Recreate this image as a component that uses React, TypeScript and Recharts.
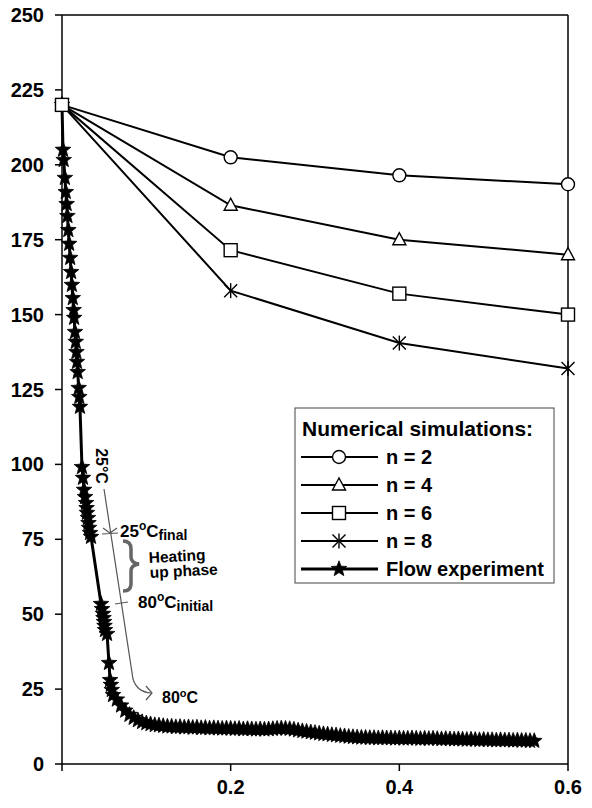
import { ScatterChart, Scatter, XAxis, YAxis, ReferenceLine } from "recharts";

const FONT = "'Liberation Sans', Arial, sans-serif";

// numerical simulations, sampled at the same x positions
const simX = [0, 0.2, 0.4, 0.6];
const simN2 = [220, 202.5, 196.5, 193.5];
const simN4 = [220, 186.5, 175, 170];
const simN6 = [220, 171.5, 157, 150];
const simN8 = [220, 158, 140.5, 132];

// flow experiment (dense logger readings)
const flowX = [
  0, 0.0012, 0.002, 0.0034, 0.0045, 0.0055, 0.0064, 0.0075, 0.0085, 0.0097,
  0.0108, 0.0117, 0.0128, 0.0138, 0.0144, 0.0154, 0.0163, 0.0171, 0.0178, 0.0186,
  0.0198, 0.0205, 0.0213, 0.0237, 0.0249, 0.0261, 0.0273, 0.0285, 0.0291, 0.0296,
  0.0308, 0.0314, 0.032, 0.0332, 0.0344, 0.0463, 0.0475, 0.0486, 0.0492, 0.0498,
  0.0504, 0.051, 0.0534, 0.0557, 0.057, 0.058, 0.059, 0.0605,
  0.065, 0.07, 0.075, 0.08, 0.085, 0.09, 0.095, 0.1, 0.105, 0.11,
  0.115, 0.12, 0.125, 0.13, 0.135, 0.14, 0.145, 0.15, 0.155, 0.16,
  0.165, 0.17, 0.175, 0.18, 0.185, 0.19, 0.195, 0.2, 0.205, 0.21,
  0.215, 0.22, 0.225, 0.23, 0.235, 0.24, 0.245, 0.25, 0.255, 0.26,
  0.265, 0.27, 0.275, 0.28, 0.285, 0.29, 0.295, 0.3, 0.305, 0.31,
  0.315, 0.32, 0.325, 0.33, 0.335, 0.34, 0.345, 0.35, 0.355, 0.36,
  0.365, 0.37, 0.375, 0.38, 0.385, 0.39, 0.395, 0.4, 0.405, 0.41,
  0.415, 0.42, 0.425, 0.43, 0.435, 0.44, 0.445, 0.45, 0.455, 0.46,
  0.465, 0.47, 0.475, 0.48, 0.485, 0.49, 0.495, 0.5, 0.505, 0.51,
  0.515, 0.52, 0.525, 0.53, 0.535, 0.54, 0.545, 0.55, 0.555, 0.56,
];
const flowY = [
  220, 205, 201.6, 195.6, 190.9, 186.9, 182.9, 178.2, 173.6, 168.9,
  164.2, 159.9, 155.5, 151.5, 148.9, 144.2, 140.9, 137.5, 134.2, 130.8,
  125.5, 122.5, 119.2, 99.1, 95.5, 91.5, 89.1, 87.1, 85.4, 83.8,
  82.1, 80.4, 78.8, 77.1, 75.8, 53.4, 51.7, 50.1, 48.7, 47.4,
  46.1, 44.7, 43.4, 33.7, 28, 26.4, 24.7, 23,
  21.5, 19.5, 17.8, 16.4, 15.4, 14.6, 14.0, 13.6, 13.3, 13.0,
  12.9, 12.7, 12.5, 12.5, 12.3, 12.4, 12.2, 12.3, 12.1, 12.2,
  12.0, 12.1, 11.9, 12.0, 11.9, 11.8, 11.9, 11.8, 11.7, 11.8,
  11.6, 11.7, 11.6, 11.5, 11.6, 11.5, 11.6, 11.7, 11.8, 11.9,
  11.8, 11.7, 11.5, 11.2, 11.0, 10.8, 10.6, 10.4, 10.2, 10.0,
  9.9, 9.7, 9.6, 9.4, 9.3, 9.1, 9.0, 8.9, 8.8, 8.8,
  8.7, 8.7, 8.6, 8.7, 8.6, 8.6, 8.5, 8.6, 8.5, 8.5,
  8.6, 8.5, 8.4, 8.5, 8.4, 8.5, 8.4, 8.3, 8.4, 8.3,
  8.2, 8.3, 8.2, 8.1, 8.2, 8.1, 8.0, 8.1, 8.0, 8.0,
  7.9, 8.0, 7.9, 7.9, 7.8, 7.9, 7.8, 7.8, 7.7, 7.7,
];

const xTicks = [0, 0.2, 0.4, 0.6];
const yTicks = [0, 25, 50, 75, 100, 125, 150, 175, 200, 225, 250];

const toPoints = (xs: number[], ys: number[]) => xs.map((x, i) => ({ x, y: ys[i] }));

type Pt = { cx?: number; cy?: number };

const CircleMark = ({ cx = 0, cy = 0 }: Pt) => (
  <circle cx={cx} cy={cy} r={6.5} fill="#fff" stroke="#000" strokeWidth={1.4} />
);
const TriangleMark = ({ cx = 0, cy = 0 }: Pt) => (
  <polygon
    points={`${cx},${cy - 7} ${cx - 6.5},${cy + 5} ${cx + 6.5},${cy + 5}`}
    fill="#fff" stroke="#000" strokeWidth={1.4}
  />
);
const SquareMark = ({ cx = 0, cy = 0 }: Pt) => (
  <rect x={cx - 6.5} y={cy - 6.5} width={13} height={13} fill="#fff" stroke="#000" strokeWidth={1.4} />
);
const AsteriskMark = ({ cx = 0, cy = 0 }: Pt) => (
  <g stroke="#000" strokeWidth={1.4}>
    <line x1={cx} y1={cy - 7.5} x2={cx} y2={cy + 7.5} />
    <line x1={cx - 6.5} y1={cy - 6.5} x2={cx + 6.5} y2={cy + 6.5} />
    <line x1={cx - 6.5} y1={cy + 6.5} x2={cx + 6.5} y2={cy - 6.5} />
  </g>
);
const starPoints = (cx: number, cy: number, ro: number, ri: number) => {
  const pts: string[] = [];
  for (let i = 0; i < 10; i++) {
    const r = i % 2 === 0 ? ro : ri;
    const a = -Math.PI / 2 + (i * Math.PI) / 5;
    pts.push(`${(cx + r * Math.cos(a)).toFixed(2)},${(cy + r * Math.sin(a)).toFixed(2)}`);
  }
  return pts.join(" ");
};
const StarMark = ({ cx = 0, cy = 0 }: Pt) => (
  <polygon points={starPoints(cx, cy, 8.2, 3.5)} fill="#000" stroke="#000" strokeWidth={0.8} />
);

const YTick = ({ x, y, payload }: any) => (
  <text x={x} y={y} dy="0.35em" textAnchor="end" fontFamily={FONT} fontWeight="bold" fontSize={20} fill="#000">
    {payload.value}
  </text>
);
const XTick = ({ x, y, payload }: any) =>
  payload.value === 0 ? <g /> : (
    <text x={x} y={y} dy="0.71em" textAnchor="middle" fontFamily={FONT} fontWeight="bold" fontSize={20} fill="#000">
      {payload.value}
    </text>
  );

const legendRows = [
  { label: "n = 2", Mark: CircleMark },
  { label: "n = 4", Mark: TriangleMark },
  { label: "n = 6", Mark: SquareMark },
  { label: "n = 8", Mark: AsteriskMark },
  { label: "Flow experiment", Mark: StarMark },
];

const lineStyle = { stroke: "#000", strokeWidth: 2 };

export default function App() {
  return (
    <div style={{ position: "relative", top: -8, width: 584, height: 808 }}>
      <ScatterChart width={584} height={808} margin={{ top: 15, right: 0, bottom: 0, left: 0 }}>
        <XAxis
          type="number" dataKey="x" domain={[0, 0.6]} ticks={xTicks} interval={0}
          height={44} tickSize={7} tickMargin={9}
          axisLine={{ stroke: "#000", strokeWidth: 1.5 }} tickLine={{ stroke: "#000", strokeWidth: 1.5 }}
          tick={<XTick />}
        />
        <YAxis
          yAxisId="left" type="number" dataKey="y" domain={[0, 250]} ticks={yTicks} interval={0}
          width={54} tickSize={7} tickMargin={11}
          axisLine={{ stroke: "#000", strokeWidth: 1.5 }} tickLine={{ stroke: "#000", strokeWidth: 1.5 }}
          tick={<YTick />}
        />
        <YAxis
          yAxisId="right" orientation="right" type="number" domain={[0, 250]} ticks={yTicks} interval={0}
          width={24} tickSize={7} tick={false}
          axisLine={{ stroke: "#000", strokeWidth: 1.5 }} tickLine={{ stroke: "#000", strokeWidth: 1.5 }}
        />
        <ReferenceLine yAxisId="left" y={250} stroke="#000" strokeWidth={1.5} />
        <Scatter yAxisId="left" data={toPoints(flowX, flowY)} line={{ stroke: "#000", strokeWidth: 3 }}
          shape={StarMark} isAnimationActive={false} />
        <Scatter yAxisId="left" data={toPoints(simX, simN2)} line={lineStyle} shape={CircleMark} isAnimationActive={false} />
        <Scatter yAxisId="left" data={toPoints(simX, simN4)} line={lineStyle} shape={TriangleMark} isAnimationActive={false} />
        <Scatter yAxisId="left" data={toPoints(simX, simN8)} line={lineStyle} shape={AsteriskMark} isAnimationActive={false} />
        <Scatter yAxisId="left" data={toPoints(simX, simN6)} line={lineStyle} shape={SquareMark} isAnimationActive={false} />
      </ScatterChart>

      {/* annotations and legend, in page coordinates */}
      <svg width={592} height={808} style={{ position: "absolute", left: -8, top: 0, pointerEvents: "none" }}>
        <g fontFamily={FONT} fontWeight="bold" fill="#000">
          <text x={101} y={466} fontSize={16} textAnchor="middle" dominantBaseline="central"
            transform="rotate(90 101 466)">25°C</text>
          <path d="M104,489 L133,679 Q137,692 151,693" fill="none" stroke="#555" strokeWidth={1.2} />
          <path d="M146,686 L152,693 L146,700" fill="none" stroke="#555" strokeWidth={1.2} />
          <path d="M103,528 L110,533 L117,528 M102,534 L118,533" fill="none" stroke="#555" strokeWidth={1.2} />
          <path d="M115,604 L128,602" fill="none" stroke="#555" strokeWidth={1.2} />
          <path d="M123,541 Q131,541 131,549 L131,557 Q131,563 139,564 Q131,565 131,571 L131,584 Q131,591 123,591"
            fill="none" stroke="#666" strokeWidth={3.5} />
          <text x={120} y={537} fontSize={17}>
            25<tspan fontSize={12} dy={-7}>o</tspan><tspan fontSize={17} dy={7}>C</tspan>
            <tspan fontSize={14} dy={3}>final</tspan>
          </text>
          <text x={149} y={563} fontSize={15.5} transform="rotate(-3 149 563)">Heating</text>
          <text x={150} y={578} fontSize={15.5} transform="rotate(-3 150 578)">up phase</text>
          <text x={138} y={608} fontSize={17}>
            80<tspan fontSize={12} dy={-7}>o</tspan><tspan fontSize={17} dy={7}>C</tspan>
            <tspan fontSize={14} dy={3}>initial</tspan>
          </text>
          <text x={162} y={703} fontSize={16}>
            80<tspan fontSize={11} dy={-6}>o</tspan><tspan fontSize={16} dy={6}>C</tspan>
          </text>
        </g>

        <g fontFamily={FONT} fontWeight="bold" fill="#000">
          <rect x={295} y={408} width={259} height={175} fill="#fff" stroke="#444" strokeWidth={1} />
          <text x={302} y={436} fontSize={21}>Numerical simulations:</text>
          {legendRows.map(({ label, Mark }, i) => {
            const cy = 457 + i * 28;
            return (
              <g key={label}>
                <line x1={301} y1={cy} x2={378} y2={cy} stroke="#000" strokeWidth={label === "Flow experiment" ? 3 : 2} />
                <Mark cx={339} cy={cy} />
                <text x={386} y={cy + 7} fontSize={20}>{label}</text>
              </g>
            );
          })}
        </g>
      </svg>
    </div>
  );
}
